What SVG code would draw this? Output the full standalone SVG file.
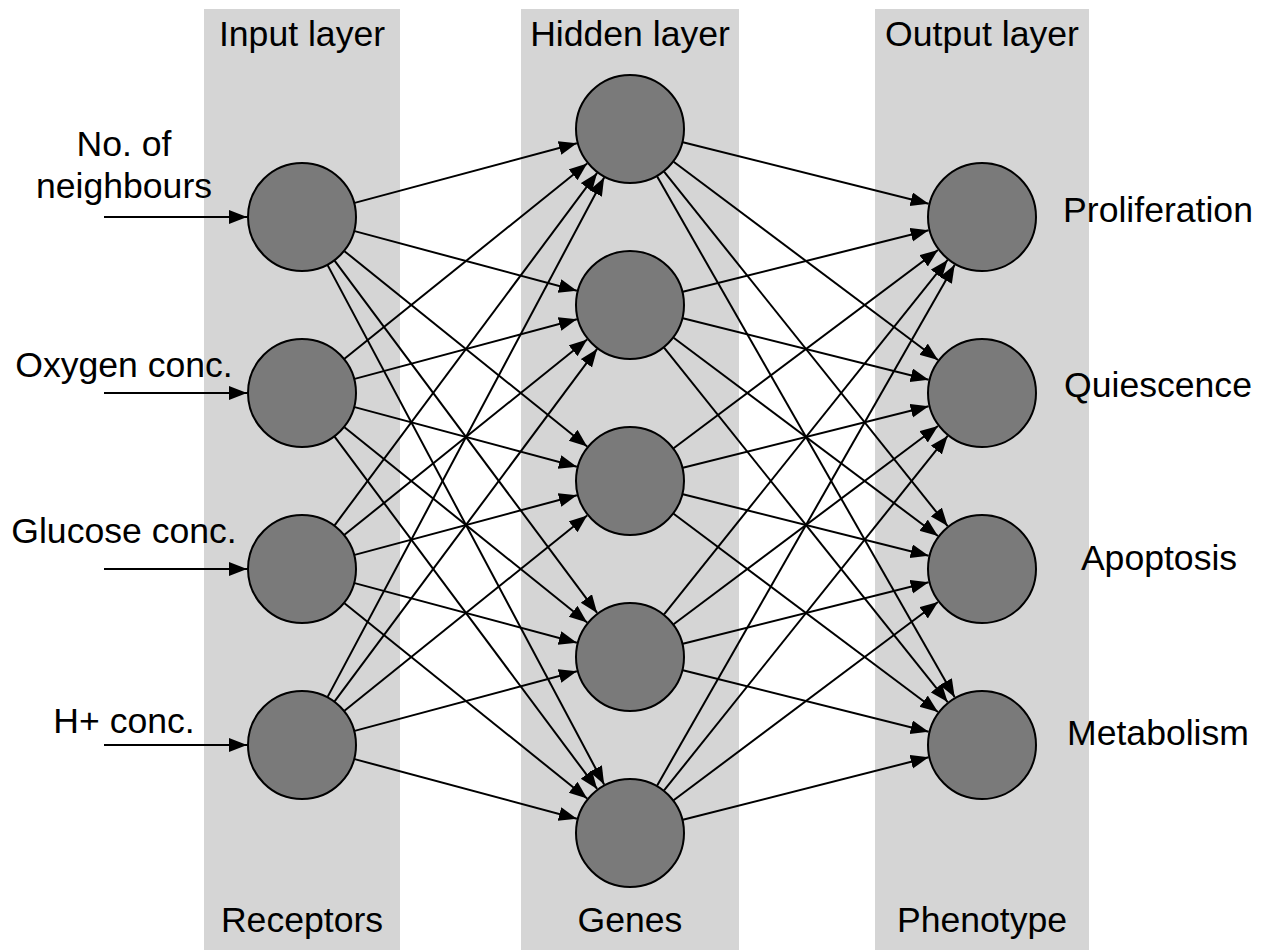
<svg xmlns="http://www.w3.org/2000/svg" width="1273" height="950" viewBox="0 0 1273 950">
<defs>
<marker id="ah" markerUnits="userSpaceOnUse" markerWidth="19" markerHeight="15" refX="18" refY="7" orient="auto">
<path d="M0,0 L18,7 L0,14 z" fill="#000"/>
</marker>
<style>
.band{fill:#d5d5d5}
.t{font-family:"Liberation Sans",Arial,Helvetica,sans-serif;font-size:35.6px;fill:#000;text-anchor:middle}
.n{fill:#7a7a7a;stroke:#000;stroke-width:2}
#connectors line{stroke:#000;stroke-width:2;marker-end:url(#ah)}
</style>
</defs>
<rect width="1273" height="950" fill="#fff"/>
<g id="bands">
<rect class="band" x="204" y="9" width="196" height="941"/>
<rect class="band" x="521" y="9" width="218" height="941"/>
<rect class="band" x="875" y="9" width="214" height="941"/>
</g>
<g id="layer-labels">
<text class="t" x="302" y="46">Input layer</text>
<text class="t" x="630" y="46">Hidden layer</text>
<text class="t" x="982" y="46">Output layer</text>
<text class="t" x="302" y="932">Receptors</text>
<text class="t" x="630" y="932">Genes</text>
<text class="t" x="982" y="932">Phenotype</text>
</g>
<g id="connectors">
<line x1="104" y1="217" x2="247" y2="217"/>
<line x1="104" y1="393" x2="247" y2="393"/>
<line x1="104" y1="569" x2="247" y2="569"/>
<line x1="104" y1="745" x2="247" y2="745"/>
<line x1="354.64" y1="202.88" x2="576.88" y2="143.25"/>
<line x1="354.64" y1="231.12" x2="576.88" y2="290.75"/>
<line x1="344.46" y1="251.17" x2="587.15" y2="446.51"/>
<line x1="334.57" y1="260.69" x2="597.13" y2="612.90"/>
<line x1="327.61" y1="265.11" x2="604.15" y2="784.45"/>
<line x1="344.46" y1="358.83" x2="587.15" y2="163.49"/>
<line x1="354.64" y1="378.88" x2="576.88" y2="319.25"/>
<line x1="354.64" y1="407.12" x2="576.88" y2="466.75"/>
<line x1="344.46" y1="427.17" x2="587.15" y2="622.51"/>
<line x1="334.57" y1="436.69" x2="597.13" y2="788.90"/>
<line x1="334.57" y1="525.31" x2="597.13" y2="172.90"/>
<line x1="344.46" y1="534.83" x2="587.15" y2="339.49"/>
<line x1="354.64" y1="554.88" x2="576.88" y2="495.25"/>
<line x1="354.64" y1="583.12" x2="576.88" y2="642.75"/>
<line x1="344.46" y1="603.17" x2="587.15" y2="798.51"/>
<line x1="327.61" y1="696.89" x2="604.15" y2="177.55"/>
<line x1="334.57" y1="701.31" x2="597.13" y2="348.90"/>
<line x1="344.46" y1="710.83" x2="587.15" y2="515.49"/>
<line x1="354.64" y1="730.88" x2="576.88" y2="671.25"/>
<line x1="354.64" y1="759.12" x2="576.88" y2="818.75"/>
<line x1="682.87" y1="142.22" x2="928.64" y2="203.66"/>
<line x1="673.6" y1="161.7" x2="938" y2="360"/>
<line x1="664.05" y1="171.56" x2="947.64" y2="526.05"/>
<line x1="657.04" y1="176.32" x2="954.71" y2="697.25"/>
<line x1="682.87" y1="291.78" x2="928.64" y2="230.34"/>
<line x1="682.87" y1="318.22" x2="928.64" y2="379.66"/>
<line x1="673.6" y1="337.7" x2="938" y2="536"/>
<line x1="664.05" y1="347.56" x2="947.64" y2="702.05"/>
<line x1="673.6" y1="448.3" x2="938" y2="250"/>
<line x1="682.87" y1="467.78" x2="928.64" y2="406.34"/>
<line x1="682.87" y1="494.22" x2="928.64" y2="555.66"/>
<line x1="673.6" y1="513.7" x2="938" y2="712"/>
<line x1="664.05" y1="614.44" x2="947.64" y2="259.95"/>
<line x1="673.6" y1="624.3" x2="938" y2="426"/>
<line x1="682.87" y1="643.78" x2="928.64" y2="582.34"/>
<line x1="682.87" y1="670.22" x2="928.64" y2="731.66"/>
<line x1="657.04" y1="785.68" x2="954.71" y2="264.75"/>
<line x1="664.05" y1="790.44" x2="947.64" y2="435.95"/>
<line x1="673.6" y1="800.3" x2="938" y2="602"/>
<line x1="682.87" y1="819.78" x2="928.64" y2="757.34"/>
</g>
<g id="in1"><circle class="n" cx="302" cy="217" r="54"/><text class="t" x="124" y="156">No. of</text><text class="t" x="124" y="198">neighbours</text></g>
<g id="in2"><circle class="n" cx="302" cy="393" r="54"/><text class="t" x="124" y="377">Oxygen conc.</text></g>
<g id="in3"><circle class="n" cx="302" cy="569" r="54"/><text class="t" x="124" y="543">Glucose conc.</text></g>
<g id="in4"><circle class="n" cx="302" cy="745" r="54"/><text class="t" x="124" y="733">H+ conc.</text></g>
<g id="h1"><circle class="n" cx="630" cy="129" r="54"/></g>
<g id="h2"><circle class="n" cx="630" cy="305" r="54"/></g>
<g id="h3"><circle class="n" cx="630" cy="481" r="54"/></g>
<g id="h4"><circle class="n" cx="630" cy="657" r="54"/></g>
<g id="h5"><circle class="n" cx="630" cy="833" r="54"/></g>
<g id="out1"><circle class="n" cx="982" cy="217" r="54"/><text class="t" x="1158" y="222">Proliferation</text></g>
<g id="out2"><circle class="n" cx="982" cy="393" r="54"/><text class="t" x="1158" y="397">Quiescence</text></g>
<g id="out3"><circle class="n" cx="982" cy="569" r="54"/><text class="t" x="1159" y="570">Apoptosis</text></g>
<g id="out4"><circle class="n" cx="982" cy="745" r="54"/><text class="t" x="1158" y="745">Metabolism</text></g>
</svg>
